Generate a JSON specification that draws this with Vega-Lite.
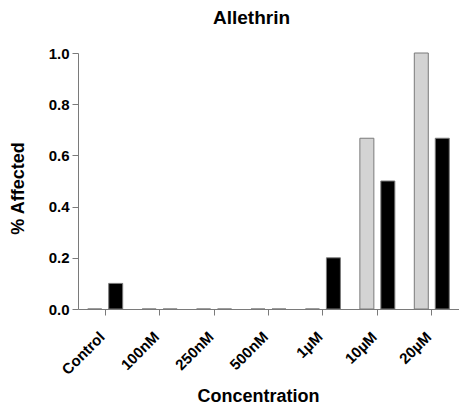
{
  "$schema": "https://vega.github.io/schema/vega-lite/v6.json",
  "autosize": "none",
  "width": 381,
  "height": 256,
  "padding": {"left": 78, "top": 53, "right": 0, "bottom": 99},
  "background": "white",
  "title": {
    "text": "Allethrin",
    "font": "Liberation Sans",
    "fontSize": 19,
    "fontWeight": "bold",
    "color": "black",
    "anchor": "middle",
    "frame": "group",
    "dx": -17,
    "offset": 3,
    "baseline": "alphabetic"
  },
  "config": {
    "view": {"stroke": null},
    "font": "Liberation Sans"
  },
  "data": {
    "values": [
      {"concentration": "Control", "group": "Group 1", "affected": 0},
      {"concentration": "Control", "group": "Group 2", "affected": 0.1},
      {"concentration": "100nM", "group": "Group 1", "affected": 0},
      {"concentration": "100nM", "group": "Group 2", "affected": 0},
      {"concentration": "250nM", "group": "Group 1", "affected": 0},
      {"concentration": "250nM", "group": "Group 2", "affected": 0},
      {"concentration": "500nM", "group": "Group 1", "affected": 0},
      {"concentration": "500nM", "group": "Group 2", "affected": 0},
      {"concentration": "1µM", "group": "Group 1", "affected": 0},
      {"concentration": "1µM", "group": "Group 2", "affected": 0.2},
      {"concentration": "10µM", "group": "Group 1", "affected": 0.667},
      {"concentration": "10µM", "group": "Group 2", "affected": 0.5},
      {"concentration": "20µM", "group": "Group 1", "affected": 1.0},
      {"concentration": "20µM", "group": "Group 2", "affected": 0.667}
    ]
  },
  "mark": {"type": "bar", "stroke": "#7a7a7a", "strokeWidth": 1},
  "encoding": {
    "x": {
      "field": "concentration",
      "type": "nominal",
      "sort": ["Control", "100nM", "250nM", "500nM", "1µM", "10µM", "20µM"],
      "scale": {"paddingInner": 0, "paddingOuter": 0},
      "axis": {
        "title": "Concentration",
        "titleFont": "Liberation Sans",
        "titleFontSize": 18,
        "titleFontWeight": "bold",
        "titleColor": "black",
        "titleX": 180,
        "titlePadding": 10,
        "labelAngle": -45,
        "labelAlign": "right",
        "labelBaseline": "middle",
        "labelOffset": -3,
        "labelFont": "Liberation Sans",
        "labelFontSize": 15,
        "labelFontWeight": "bold",
        "labelColor": "black",
        "labelPadding": 19,
        "domainColor": "#7a7a7a",
        "tickColor": "#7a7a7a",
        "tickSize": 6,
        "grid": false
      }
    },
    "xOffset": {
      "field": "group",
      "type": "nominal",
      "scale": {"domain": ["Group 1", "Group 2"], "paddingInner": 0.333, "paddingOuter": 0.464}
    },
    "y": {
      "field": "affected",
      "type": "quantitative",
      "scale": {"domain": [0, 1], "nice": false},
      "axis": {
        "title": "% Affected",
        "titleFont": "Liberation Sans",
        "titleFontSize": 18,
        "titleFontWeight": "bold",
        "titleColor": "black",
        "titleX": -60,
        "titleY": 135,
        "titleAlign": "center",
        "titleBaseline": "middle",
        "values": [0, 0.2, 0.4, 0.6, 0.8, 1.0],
        "format": ".1f",
        "labelFont": "Liberation Sans",
        "labelFontSize": 15,
        "labelFontWeight": "bold",
        "labelColor": "black",
        "labelPadding": 3,
        "domainColor": "#7a7a7a",
        "tickColor": "#7a7a7a",
        "tickSize": 6,
        "grid": false
      }
    },
    "color": {
      "field": "group",
      "type": "nominal",
      "scale": {"domain": ["Group 1", "Group 2"], "range": ["#d3d3d3", "#000000"]},
      "legend": null
    }
  }
}
